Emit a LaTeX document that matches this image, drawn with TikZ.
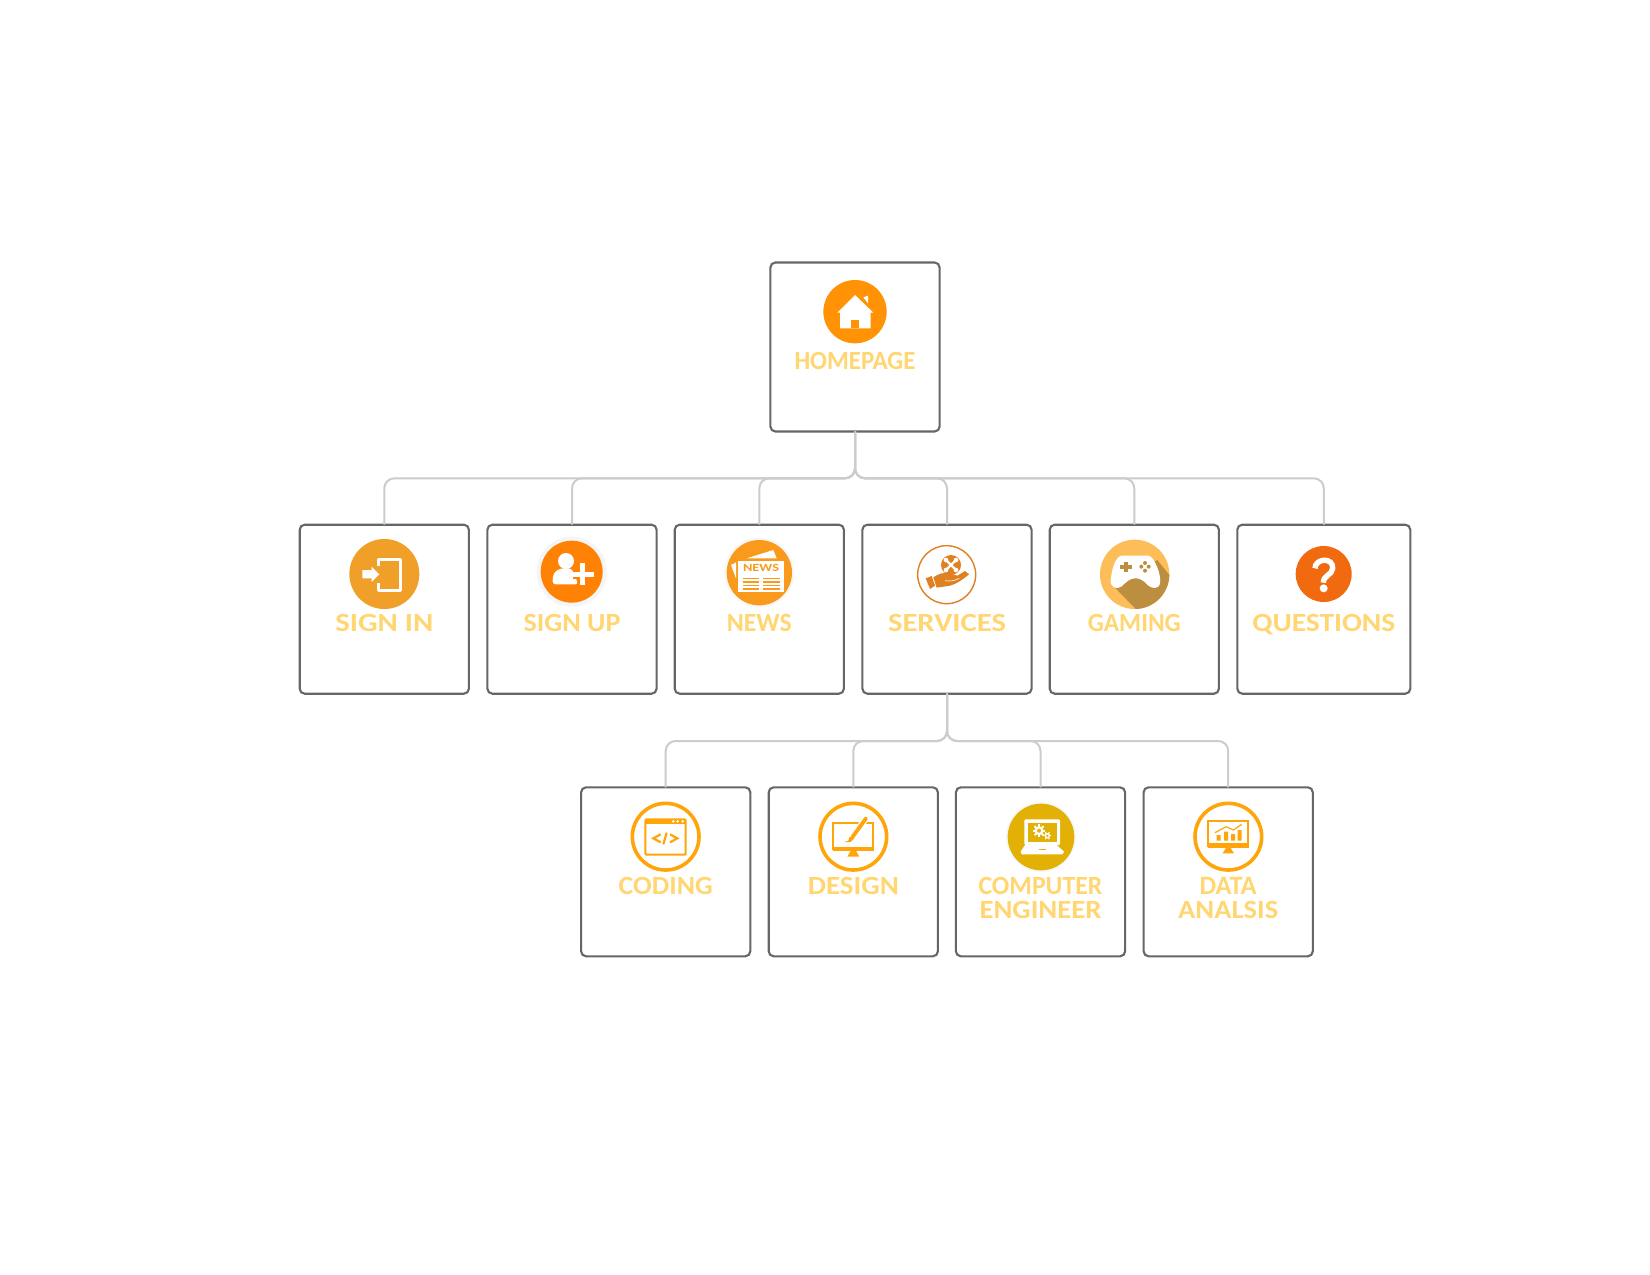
\documentclass[tikz,border=0pt]{standalone}
\usepackage{graphicx}
\usepackage{fontspec}
\setmainfont{Carlito}
\definecolor{cardline}{HTML}{666666}
\definecolor{connline}{HTML}{CCCCCC}
\definecolor{labelcol}{HTML}{FFD671}
\definecolor{homeor}{HTML}{FF9305}
\definecolor{signin}{HTML}{F0A028}
\definecolor{signup}{HTML}{FF8205}
\definecolor{newsor}{HTML}{FA9A1C}
\definecolor{servor}{HTML}{DF8022}
\definecolor{gamea}{HTML}{FDBD59}
\definecolor{gameb}{HTML}{BC8E40}
\definecolor{questor}{HTML}{F26A10}
\definecolor{ringor}{HTML}{FFA50A}
\definecolor{compy}{HTML}{E3B105}
% label word fitted to a width given in reference pixels
\newcommand{\fitw}[2]{\resizebox{#1\dimexpr.5pt\relax}{8.6pt}{#2}}
\tikzset{
  card/.style={draw=cardline,fill=white,line width=1.05pt,rounded corners=2.5pt,minimum width=84.6pt,minimum height=84.5pt,inner sep=0pt,outer sep=0pt},
  conn/.style={draw=connline,line width=1pt,rounded corners=5pt},
  lab/.style={text=labelcol,inner sep=0pt,font=\fontsize{14}{12}\selectfont\bfseries,align=center,anchor=base},
  lab2/.style={lab,anchor=center},
  zoomed/.style={shift={#1},x=.16667pt,y=-.16667pt},
}
\begin{document}
\begin{tikzpicture}[x=.5pt,y=-.5pt]
\useasboundingbox (0,0) rectangle (1650,1275);
\fill[white] (0,0) rectangle (1650,1275);
% cards
\node[card] (home) at (855,347) {};
\node[card] (signinbox) at (384.3,609.2) {};
\node[card] (signupbox) at (572,609.2) {};
\node[card] (newsbox) at (759.3,609.2) {};
\node[card] (services) at (947,609.2) {};
\node[card] (gaming) at (1134.3,609.2) {};
\node[card,minimum width=86.5pt] (questions) at (1323.8,609.2) {};
\node[card] (coding) at (665.7,871.8) {};
\node[card] (design) at (853.3,871.8) {};
\node[card] (computer) at (1040.5,871.8) {};
\node[card] (data) at (1228.2,871.8) {};
% connectors
\coordinate (busa) at (855,478.3);
\coordinate (busb) at (947,741);
\foreach \c in {signinbox,signupbox,newsbox,services,gaming,questions}
  \draw[conn] (home.south) -- (home.south |- busa) -- (\c.north |- busa) -- (\c.north);
\foreach \c in {coding,design,computer,data}
  \draw[conn] (services.south) -- (services.south |- busb) -- (\c.north |- busb) -- (\c.north);
% labels
\node[lab] (lhome) at (855,369) {\fitw{121}{HOMEPAGE}};
\node[lab] (lsignin) at (384.3,631.5) {\fitw{98}{SIGN IN}};
\node[lab] (lsignup) at (572,631.5) {\fitw{97}{SIGN UP}};
\node[lab] (lnews) at (759.3,631.5) {\fitw{65}{NEWS}};
\node[lab] (lserv) at (947,631.5) {\fitw{118}{SERVICES}};
\node[lab] (lgame) at (1134.3,631.5) {\fitw{93}{GAMING}};
\node[lab] (lquest) at (1323.8,631.5) {\fitw{143}{QUESTIONS}};
\node[lab] (lcode) at (665.7,894) {\fitw{94}{CODING}};
\node[lab] (ldes) at (853.3,894) {\fitw{91}{DESIGN}};
\node[lab2] (lcomp) at (1040.5,897.7) {\fitw{124}{COMPUTER}\\\fitw{122}{ENGINEER}};
\node[lab2] (ldata) at (1228.2,897.7) {\fitw{57}{DATA}\\\fitw{100}{ANALSIS}};
% homepage icon
\begin{scope}[zoomed={(740,240)}]
  \fill[homeor] (345,215) circle (95);
  \fill[white] (345,165) -- (400,218) -- (392,218) -- (392,265) -- (300,265) -- (300,218) -- (292,218) -- cycle;
  \fill[homeor] (333,240) rectangle (358,265);
  \fill[white] (370,172) -- (384,167) -- (384,190) -- cycle;
\end{scope}
% sign in, sign up
\begin{scope}[zoomed={(290,515)}]
  \fill[signin] (283,177) circle (105);
  \draw[white,line width=1.5pt,line join=round] (265,153) -- (265,132) -- (330,132) -- (330,227) -- (265,227) -- (265,205);
  \fill[white] (217,165) -- (245,165) -- (245,155) -- (268,178) -- (245,201) -- (245,190) -- (217,190) -- cycle;
  \fill[black!4] (845,170) circle (105);
  \fill[signup] (845,170) circle (93);
  \fill[white] (828,138) circle (24);
  \fill[white,rounded corners=1.6pt] (787,208) -- (790,175) -- (810,160) -- (845,160) -- (865,208) -- cycle;
  \draw[signup,line width=4.4pt] (878,150) -- (878,206) (850,178) -- (906,178);
  \draw[white,line width=2.4pt] (878,145) -- (878,211) (845,178) -- (912,178);
\end{scope}
% news, services
\begin{scope}[zoomed={(670,515)}]
  \fill[black!3] (268,173) circle (105);
  \fill[newsor] (268,173) circle (98);
  \fill[white] (230,130) -- (310,105) -- (320,130) -- cycle;
  \fill[white] (183,150) -- (198,142) -- (198,190) -- cycle;
  \fill[white] (203,137) rectangle (343,232);
  \node[text=newsor,inner sep=0pt,font=\bfseries] (newsword) at (273,160) {\resizebox{18pt}{3.6pt}{NEWS}};
  \foreach \yy in {190,201,212,222}
    \draw[newsor,line width=.7pt] (218,\yy) -- (268,\yy) (280,\yy) -- (330,\yy);
  \draw[servor,line width=.7pt] (830,179) circle (87);
  \fill[servor] (843,150) circle (30);
  \draw[white,line width=1.2pt] (828,135) -- (858,165) (858,135) -- (828,165);
  \fill[white] (828,135) circle (7) (858,135) circle (7) (828,165) circle (7) (858,165) circle (7);
  \fill[servor] (790,187) .. controls (805,176) and (825,170) .. (840,176) -- (862,182) -- (885,168) -- (897,178) .. controls (880,192) and (860,207) .. (840,212) -- (800,218) -- cycle;
  \fill[servor] (767,190) -- (785,183) -- (795,212) -- (780,222) -- cycle;
  \draw[white,line width=.3pt] (825,197) .. controls (840,200) and (855,197) .. (868,190);
\end{scope}
% gaming, questions
\begin{scope}[zoomed={(1040,515)}]
  \fill[gamea] (284,178) circle (104);
  \begin{scope}
    \clip (284,178) circle (104);
    \fill[gameb] (225,218) -- (295,290) -- (400,290) -- (400,195) -- (352,135) -- cycle;
  \end{scope}
  \fill[white] (245,122) -- (325,122) .. controls (345,125) and (365,185) .. (360,205) .. controls (355,225) and (335,220) .. (325,212) .. controls (305,190) and (295,190) .. (285,190) .. controls (270,190) and (260,200) .. (245,214) .. controls (230,225) and (210,218) .. (212,195) .. controls (215,165) and (225,125) .. (245,122) -- cycle;
  \draw[gameb,line width=2.1pt] (241,155) -- (275,155) (258,140) -- (258,172);
  \fill[gameb] (315,144) circle (6) (315,167) circle (6) (304,155) circle (6) (326,155) circle (6);
  \fill[questor] (851,177) circle (84);
  \draw[white,line width=2.7pt] (825,160) .. controls (825,130) and (880,125) .. (878,160) .. controls (877,180) and (850,180) .. (850,203);
  \fill[white] (851,220) circle (12);
\end{scope}
% coding, design
\begin{scope}[zoomed={(570,780)}]
  \draw[ringor,line width=1.8pt] (287,170) circle (100);
  \draw[ringor,line width=1pt,rounded corners=.5pt] (226,118) rectangle (347,224);
  \fill[ringor] (226,116) rectangle (347,133);
  \fill[white] (310,124) circle (4) (323,124) circle (4) (338,124) circle (4);
  \draw[ringor,line width=1.1pt] (272,163) -- (250,175) -- (272,187) (300,163) -- (322,175) -- (300,187) (290,158) -- (280,193);
  \draw[ringor,line width=1.8pt] (850,170) circle (100);
  \draw[ringor,line width=1pt] (790,130) rectangle (910,208);
  \fill[ringor] (788,200) rectangle (912,212);
  \fill[ringor] (842,212) -- (858,212) -- (868,230) -- (832,230) -- cycle;
  \draw[white,line width=3.2pt] (890,112) -- (846,172);
  \draw[ringor,line width=1.9pt,line cap=round] (888,115) -- (848,170);
  \fill[ringor] (850,168) -- (838,172) -- (835,182) -- (822,186) -- (842,186) -- (852,176) -- cycle;
\end{scope}
% computer engineer, data analsis
\begin{scope}[zoomed={(940,780)}]
  \fill[black!3] (303,171) circle (105);
  \fill[compy] (303,171) circle (100);
  \fill[white,rounded corners=.6pt] (253,118) rectangle (360,195);
  \fill[compy] (263,128) rectangle (350,185);
  \fill[white] (255,195) -- (350,195) -- (372,215) -- (368,223) -- (245,223) -- (242,215) -- cycle;
  \fill[compy] (297,207) rectangle (318,211);
  \draw[white,line width=1.1pt] (297,152) circle (10);
  \foreach \a in {0,45,...,315} \draw[white,line width=1pt] (297,152) ++(\a:11) -- ++(\a:8);
  \draw[white,line width=.7pt] (322,167) circle (6);
  \foreach \a in {0,60,...,300} \draw[white,line width=.6pt] (322,167) ++(\a:6) -- ++(\a:6);
  \draw[ringor,line width=1.8pt] (865,170) circle (100);
  \draw[ringor,line width=1.1pt] (805,122) rectangle (925,198);
  \fill[ringor] (803,190) rectangle (927,204);
  \fill[ringor] (858,204) -- (872,204) -- (882,220) -- (848,220) -- cycle;
  \fill[ringor] (830,165) rectangle (842,182) (852,155) rectangle (864,182) (873,162) rectangle (885,182) (893,150) rectangle (905,182);
  \draw[ringor,line width=.6pt] (825,158) -- (858,140) -- (880,150) -- (905,133);
\end{scope}
\end{tikzpicture}
\end{document}
